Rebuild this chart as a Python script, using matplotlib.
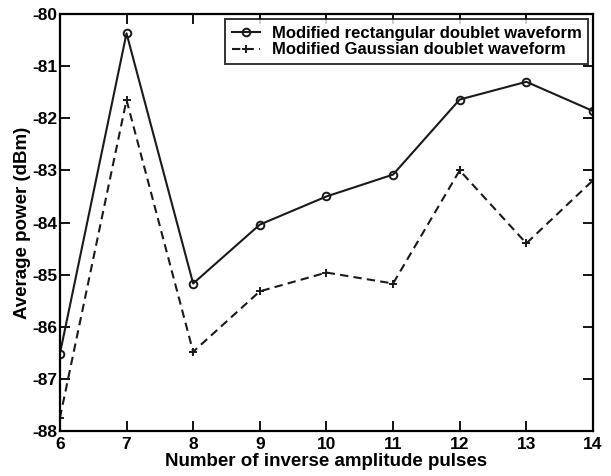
import matplotlib.pyplot as plt
import numpy as np

plt.rcParams['font.family'] = ['Liberation Sans', 'DejaVu Sans']
plt.rcParams['font.weight'] = 'bold'

# data
pulses = [6, 7, 8, 9, 10, 11, 12, 13, 14]
rect_power = [-86.52, -80.37, -85.17, -84.04, -83.50, -83.08, -81.64, -81.30, -81.86]
gauss_power = [-87.75, -81.65, -86.48, -85.32, -84.96, -85.17, -83.00, -84.40, -83.19]
yticks = [-80, -81, -82, -83, -84, -85, -86, -87, -88]

fig = plt.figure(figsize=(6.11, 4.76), dpi=100)
ax = fig.add_axes([0.098, 0.0945, 0.8725, 0.876])

ax.plot(pulses, rect_power, color='#1a1a1a', linestyle='-', linewidth=1.5,
        marker='o', markersize=5.5, markerfacecolor='none', markeredgewidth=1.4,
        label='Modified rectangular doublet waveform')
ax.plot(pulses, gauss_power, color='#1a1a1a', linestyle='--', linewidth=1.5,
        dashes=(4, 2.5), marker='+', markersize=6, markeredgewidth=1.4,
        label='Modified Gaussian doublet waveform')

ax.set_xlim(6, 14)
ax.set_ylim(-88, -80)
ax.set_xticks(pulses)
ax.set_xticklabels([str(p) for p in pulses])
ax.set_yticks(yticks)
ax.set_yticklabels([str(v) for v in yticks])

ax.tick_params(direction='in', length=7, width=1.3, top=True, right=True,
               labelsize=12.5)
ax.tick_params(axis='y', pad=2)
ax.tick_params(axis='x', pad=4)
for s in ax.spines.values():
    s.set_linewidth(1.6)

ax.set_xlabel('Number of inverse amplitude pulses', fontsize=13.5, fontweight='bold', labelpad=1)
ax.set_ylabel('Average power (dBm)', fontsize=13.5, fontweight='bold', labelpad=1)

leg = ax.legend(loc='upper right', fontsize=12, frameon=True, fancybox=False,
                edgecolor='black', handlelength=1.7, handletextpad=0.7,
                borderpad=0.4, labelspacing=0.1, borderaxespad=0.3)
leg.get_frame().set_linewidth(1.4)

plt.savefig('out.png', dpi=100)
